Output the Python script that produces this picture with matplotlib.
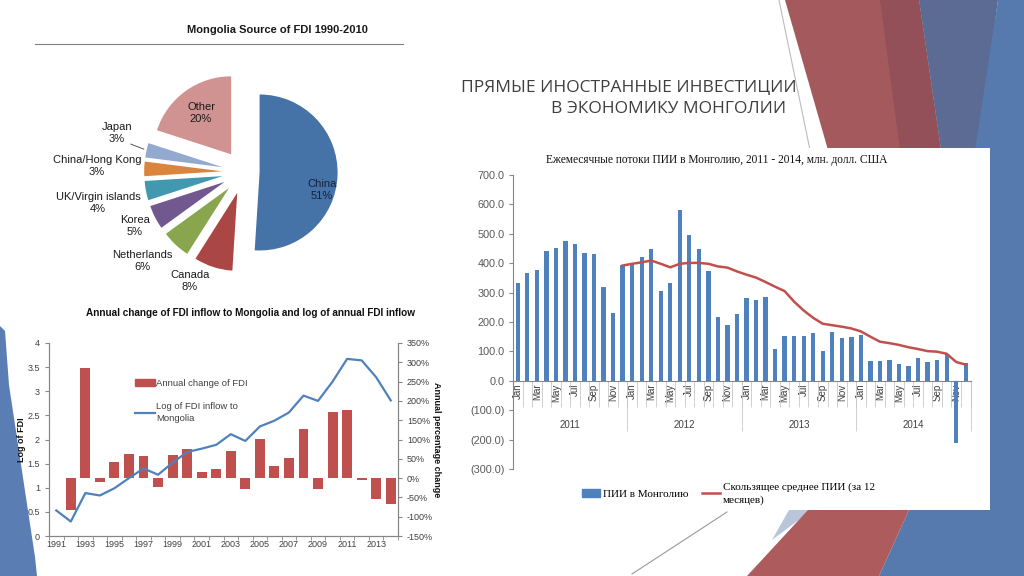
import numpy as np
import matplotlib
matplotlib.use('Agg')
import matplotlib.pyplot as plt
from matplotlib.patches import Polygon, Rectangle, Patch
from matplotlib.lines import Line2D
from matplotlib.ticker import FuncFormatter

W, H = 1024, 576

# --- pie: source of FDI 1990-2010, % ---
pie_names = ['China', 'Canada', 'Netherlands', 'Korea', 'UK/Virgin islands',
             'China/Hong Kong', 'Japan', 'Other']
pie_shares = [51, 8, 6, 5, 4, 3, 3, 20]
pie_colors = ['#4572A7', '#AA4643', '#89A54E', '#71588F', '#4198AF',
              '#DB843D', '#93A9CF', '#D19392']

# --- annual FDI: log of inflow and annual % change ---
years = list(range(1991, 2015))
log_fdi = [0.53, 0.30, 0.89, 0.84, 0.99, 1.20, 1.40, 1.27, 1.52, 1.74, 1.81, 1.89,
           2.11, 1.97, 2.27, 2.39, 2.56, 2.91, 2.80, 3.20, 3.67, 3.64, 3.29, 2.81]
change_years = years[1:]
annual_change = [-82, 285, -11, 41, 62, 58, -24, 60, 76, 17, 23, 69,
                 -29, 102, 31, 53, 128, -27, 170, 177, -6, -54, -67]

# --- monthly FDI 2011-2014, mln USD ---
month_names = ['Jan', 'Feb', 'Mar', 'Apr', 'May', 'Jun',
               'Jul', 'Aug', 'Sep', 'Oct', 'Nov', 'Dec']
year_groups = ['2011', '2012', '2013', '2014']
fdi_2011 = [333, 366, 377, 440, 453, 477, 464, 435, 430, 320, 230, 393]
fdi_2012 = [398, 420, 447, 305, 334, 582, 497, 449, 375, 216, 190, 227]
fdi_2013 = [283, 276, 286, 108, 151, 153, 151, 161, 102, 167, 145, 148]
fdi_2014 = [156, 67, 68, 72, 57, 51, 78, 65, 72, 91, -210, 61]
# 12-month moving average, starts Dec 2011
ma_12 = [392, 398, 403, 409, 398, 386, 398, 401, 401, 398, 389, 385, 372,
         361, 351, 336, 320, 305, 269, 239, 214, 194, 189, 184, 178,
         168, 150, 133, 128, 122, 114, 108, 101, 99, 92, 64, 55]

fig = plt.figure(figsize=(W / 100, H / 100), dpi=100)
fig.patch.set_facecolor('white')


def fx(px):
    return px / W


def fy(py):
    return 1 - py / H


def box(x0, y0, x1, y1):
    return [x0 / W, 1 - y1 / H, (x1 - x0) / W, (y1 - y0) / H]


def poly(pts, color, z=-3):
    fig.add_artist(Polygon([(fx(x), fy(y)) for x, y in pts], closed=True,
                           transform=fig.transFigure, facecolor=color,
                           edgecolor='none', zorder=z))


# slide decoration
poly([(0, 326), (5, 331), (9, 385), (35, 557), (37, 576), (0, 576)], '#5A7DB3')
poly([(785, 0), (919, 0), (941, 150), (828, 150)], '#A45A5C')
poly([(880, 0), (919, 0), (941, 150), (900, 150)], '#935058')
poly([(919, 0), (998, 0), (978, 150), (941, 150)], '#5B6B94')
poly([(998, 0), (1024, 0), (1024, 576), (879, 576), (909, 510), (975, 150)], '#5679AE')
poly([(789, 510), (812, 510), (772, 540)], '#B9C5D9')
poly([(808, 510), (909, 510), (879, 576), (747, 576)], '#AE5B5D')
fig.add_artist(Line2D([fx(779), fx(810)], [fy(0), fy(150)], color='#BBBBBB', lw=0.8,
                      zorder=-3))
fig.add_artist(Line2D([fx(727), fx(632)], [fy(512), fy(574)], color='#999999', lw=0.8,
                      zorder=-3))
# white chart panel
fig.add_artist(Rectangle((fx(508), fy(510)), (990 - 508) / W, (510 - 148) / H,
                         transform=fig.transFigure, facecolor='white',
                         edgecolor='none', zorder=-2))

# slide title
fig.text(fx(797), fy(88), 'ПРЯМЫЕ ИНОСТРАННЫЕ ИНВЕСТИЦИИ', ha='right', va='center',
         fontsize=12.5, color='#3F3F3F', family='Open Sans')
fig.text(fx(786), fy(109), 'В ЭКОНОМИКУ МОНГОЛИИ', ha='right', va='center',
         fontsize=12.5, color='#3F3F3F', family='Open Sans')

# ---------------- pie ----------------
fig.text(fx(277), fy(30), 'Mongolia Source of FDI 1990-2010', ha='center', va='center',
         fontsize=8, fontweight='bold', family='Liberation Sans', color='#1A1A1A')
fig.add_artist(Line2D([fx(35), fx(403)], [fy(44), fy(44)], color='#808080', lw=0.8))

R, cx, cy, half = 78, 244, 172, 125
ax1 = fig.add_axes(box(cx - half, cy - half, cx + half, cy + half))
explode = [0.2] + [0.28] * (len(pie_shares) - 1)
ax1.pie(pie_shares, colors=pie_colors, startangle=90, counterclock=False,
        explode=explode, wedgeprops=dict(linewidth=0))
ax1.set_xlim(-half / R, half / R)
ax1.set_ylim(-half / R, half / R)
ax1.axis('off')


def pdata(px, py):
    return ((px - cx) / R, (cy - py) / R)


label_pos = {'China': (322, 190), 'Other': (201, 113), 'Japan': (117, 133),
             'China/Hong Kong': (97, 166), 'UK/Virgin islands': (98, 203),
             'Korea': (135, 226), 'Netherlands': (142, 261), 'Canada': (190, 281)}
for name, share in zip(pie_names, pie_shares):
    col = '#16233A' if name == 'China' else '#1A1A1A'
    ax1.text(*pdata(*label_pos[name]), f'{name}\n{share}%', ha='center', va='center',
             fontsize=8, family='Liberation Sans', color=col, linespacing=1.3)

# leader line for Japan
cum = np.cumsum([0] + pie_shares)
j = pie_names.index('Japan')
ang = np.deg2rad(90 - 360 * (cum[j] + pie_shares[j] / 2) / 100)
tip = ((1 + explode[j]) * np.cos(ang), (1 + explode[j]) * np.sin(ang))
ax1.annotate('', xy=tip, xytext=pdata(128, 143),
             arrowprops=dict(arrowstyle='-', color='#404040', lw=0.6))

# ---------------- annual chart ----------------
fig.text(fx(250), fy(313), 'Annual change of FDI inflow to Mongolia and log of annual FDI inflow',
         ha='center', va='center', fontsize=7.2, fontweight='bold',
         family='Liberation Sans', color='#111111')

ax2 = fig.add_axes(box(49, 343, 398, 536))
tw = ax2.twinx()
tw.bar(change_years, annual_change, width=0.68, color='#C0504D')
ax2.plot(years, log_fdi, color='#4F81BD', lw=1.6)
ax2.set_zorder(tw.get_zorder() + 1)
ax2.patch.set_visible(False)

ax2.set_xlim(1990.5, 2014.5)
ax2.set_ylim(0, 4)
tw.set_ylim(-150, 350)
ax2.set_yticks(np.arange(0, 4.01, 0.5))
ax2.yaxis.set_major_formatter(FuncFormatter(lambda v, p: f'{v:g}'))
tw.set_yticks(range(-150, 351, 50))
tw.yaxis.set_major_formatter(FuncFormatter(lambda v, p: f'{v:.0f}%'))
ax2.set_xticks(years[::2])
ax2.set_xticks(np.arange(1990.5, 2015, 1), minor=True)
ax2.tick_params(axis='x', which='major', length=0, labelsize=6.5, colors='#404040', pad=3)
ax2.tick_params(axis='x', which='minor', length=3, color='#868686')
ax2.tick_params(axis='y', length=3, labelsize=6.5, colors='#404040', color='#868686')
tw.tick_params(axis='y', length=3, labelsize=6.5, colors='#404040', color='#868686')
for a in (ax2, tw):
    a.spines['top'].set_visible(False)
    for s in ('left', 'right', 'bottom'):
        a.spines[s].set_color('#868686')
        a.spines[s].set_linewidth(0.8)
for lab in ax2.get_xticklabels() + ax2.get_yticklabels() + tw.get_yticklabels():
    lab.set_family('Liberation Sans')

fig.text(fx(22), fy(440), 'Log of FDI', rotation=90, ha='center', va='center',
         fontsize=6.5, fontweight='bold', family='Liberation Sans', color='#111111')
fig.text(fx(437), fy(440), 'Annual percentage change', rotation=270, ha='center',
         va='center', fontsize=6.5, fontweight='bold', family='Liberation Sans',
         color='#111111')

leg2 = ax2.legend([Patch(color='#C0504D'), Line2D([], [], color='#4F81BD', lw=1.6)],
                  ['Annual change of FDI', 'Log of FDI inflow to\nMongolia'],
                  loc='upper left', bbox_to_anchor=(fx(126), fy(370)),
                  bbox_transform=fig.transFigure, frameon=False,
                  prop={'family': 'Liberation Sans', 'size': 6.8},
                  handlelength=2.2, handletextpad=0.1, labelspacing=1.5)
for t in leg2.get_texts():
    t.set_color('#404040')
    t.set_linespacing(1.5)

# ---------------- monthly chart ----------------
fdi_monthly = fdi_2011 + fdi_2012 + fdi_2013 + fdi_2014
n = len(fdi_monthly)
xm = np.arange(n)
fig.text(fx(717), fy(160), 'Ежемесячные потоки ПИИ в Монголию, 2011 - 2014, млн. долл. США',
         ha='center', va='center', fontsize=8.3, family='Liberation Serif',
         color='#111111', zorder=3)

ax3 = fig.add_axes(box(513, 175, 970.5, 469))
ax3.patch.set_visible(False)
ax3.bar(xm, fdi_monthly, width=0.45, color='#4F81BD', zorder=3)
ax3.plot(np.arange(n - len(ma_12), n), ma_12, color='#C0504D', lw=1.8, zorder=4)
ax3.set_xlim(-0.5, n - 0.5)
ax3.set_ylim(-300, 700)
ax3.set_yticks(range(-300, 701, 100))
ax3.yaxis.set_major_formatter(
    FuncFormatter(lambda v, p: f'{v:.1f}' if v >= 0 else f'({-v:.1f})'))
ax3.spines['top'].set_visible(False)
ax3.spines['right'].set_visible(False)
ax3.spines['bottom'].set_position(('data', 0))
for s in ('left', 'bottom'):
    ax3.spines[s].set_color('#868686')
    ax3.spines[s].set_linewidth(0.8)
ax3.set_xticks(xm[::2])
ax3.set_xticklabels([month_names[i % 12] for i in xm[::2]], rotation=90)
ax3.set_xticks(np.arange(-0.5, n, 1), minor=True)
ax3.tick_params(axis='x', which='major', length=0, pad=2, labelsize=7, colors='#404040')
ax3.tick_params(axis='x', which='minor', length=19, width=0.6, color='#C8C8C8')
ax3.tick_params(axis='y', length=3, labelsize=7.8, colors='#595959', color='#868686', pad=3)
for lab in ax3.get_xticklabels() + ax3.get_yticklabels():
    lab.set_family('Liberation Sans')

sec = ax3.secondary_xaxis(0.3)
sec.set_xticks(np.arange(5.5, n, 12))
sec.set_xticklabels(year_groups)
sec.set_xticks(np.arange(-0.5, n + 1, 12), minor=True)
sec.tick_params(axis='x', which='major', length=0, pad=28, labelsize=7, colors='#404040')
sec.tick_params(axis='x', which='minor', length=36, width=0.6, color='#C8C8C8')
sec.spines['bottom'].set_visible(False)
for lab in sec.get_xticklabels():
    lab.set_family('Liberation Sans')

leg3 = fig.legend([Patch(color='#4F81BD'), Line2D([], [], color='#C0504D', lw=1.8)],
                  ['ПИИ в Монголию', 'Скользящее среднее ПИИ (за 12\nмесяцев)'],
                  loc='upper left', bbox_to_anchor=(fx(572), fy(472)), ncol=2,
                  frameon=False, prop={'family': 'Liberation Serif', 'size': 8},
                  handlelength=1.6, handletextpad=0.3, columnspacing=1.2)
for t in leg3.get_texts():
    t.set_linespacing(1.45)
leg3.set_zorder(5)

fig.savefig('out.png', dpi=100)
